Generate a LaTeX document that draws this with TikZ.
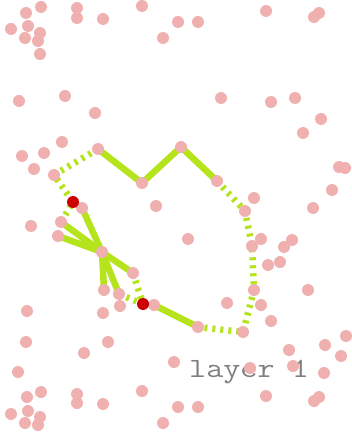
\documentclass[tikz,border=0pt]{standalone}
\usepackage{graphicx}
\usepackage{xcolor}
\usepackage{tikz}
\usetikzlibrary{backgrounds}

\definecolor{dotpink}{RGB}{240,176,176}
\definecolor{hotred}{RGB}{204,0,0}
\definecolor{lime}{RGB}{181,228,29}

\begin{document}
\begin{tikzpicture}[
    x=1bp, y=-1bp,
    dot/.style={circle, fill=dotpink, inner sep=0pt, minimum size=12bp},
    reddot/.style={circle, fill=hotred, inner sep=0pt, minimum size=12bp},
    link/.style={draw=lime, line width=6.5bp},
    newlink/.style={draw=lime, line width=6.5bp, dash pattern=on 3bp off 5bp}
]
    \useasboundingbox (0,0) rectangle (351,433);

    % Layer label
    \node (label) [anchor=base west, inner sep=0pt, text=gray, font=\ttfamily\fontsize{28}{28}\selectfont] at (189,377) {\scalebox{1.19}[1]{layer 1}};

    % Scattered points
    \foreach \x/\y [count=\i] in {41/7, 26/13, 77/8, 77/18, 103/19, 142/6, 11/29, 28/26, 40/33, 25/38, 38/41, 40/54,
        163/38, 178/22, 198/22, 19/101, 65/96, 95/113, 62/142, 266/11, 319/13, 314/17, 221/98, 271/102, 295/98,
        321/119, 303/133, 22/156, 44/153, 34/169, 156/206, 31/226, 254/198, 188/239, 261/239, 292/240, 284/247,
        268/265, 280/262, 308/290, 313/208, 332/190, 339/167, 345/168, 120/306, 27/311, 103/313, 26/342, 108/342,
        84/353, 18/372, 174/362, 41/392, 27/397, 77/394, 77/403, 103/404, 142/391, 11/414, 28/411, 40/417, 25/423,
        38/425, 163/423, 178/407, 198/407, 227/303, 261/305, 271/321, 289/350, 325/345, 346/336, 341/356, 293/366,
        324/373, 250/368, 266/396, 319/397, 314/401}
        \node (p\i) [dot] at (\x,\y) {};

    % Points on the tour
    \node (a) [dot] at (98,149) {};
    \node (b) [dot] at (142,183) {};
    \node (c) [dot] at (181,147) {};
    \node (d) [dot] at (217,181) {};
    \node (e) [dot] at (245,211) {};
    \node (f) [dot] at (252,246) {};
    \node (g) [dot] at (254,290) {};
    \node (h) [dot] at (243,332) {};
    \node (k) [dot] at (198,327) {};
    \node (m) [dot] at (154,305) {};
    \node (q) [dot] at (119,294) {};
    \node (r) [dot] at (104,290) {};
    \node (s) [dot] at (133,273) {};
    \node (hub) [dot] at (102,252) {};
    \node (t) [dot] at (58,236) {};
    \node (u) [dot] at (61,222) {};
    \node (v) [dot] at (82,208) {};
    \node (w) [dot] at (54,175) {};
    \node (start) [reddot] at (73,202) {};
    \node (stop) [reddot] at (143,304) {};

    \begin{scope}[on background layer]
    % Kept edges
    \draw [link] (a.center) -- (b.center) -- (c.center) -- (d.center);
    \draw [link] (hub.center) -- (v.center);
    \draw [link] (hub.center) -- (u.center);
    \draw [link] (hub.center) -- (t.center);
    \draw [link] (hub.center) -- (s.center);
    \draw [link] (hub.center) -- (r.center);
    \draw [link] (hub.center) -- (q.center);
    \draw [link] (m.center) -- (k.center);

    % New edges
    \draw [newlink] (a.center) -- (w.center) -- (start.center) -- (u.center);
    \draw [newlink] (d.center) -- (e.center) -- (f.center) -- (g.center) -- (h.center) -- (k.center);
    \draw [newlink] (s.center) -- (stop.center);
    \draw [newlink] (q.center) -- (stop.center);
    \end{scope}

\end{tikzpicture}
\end{document}
